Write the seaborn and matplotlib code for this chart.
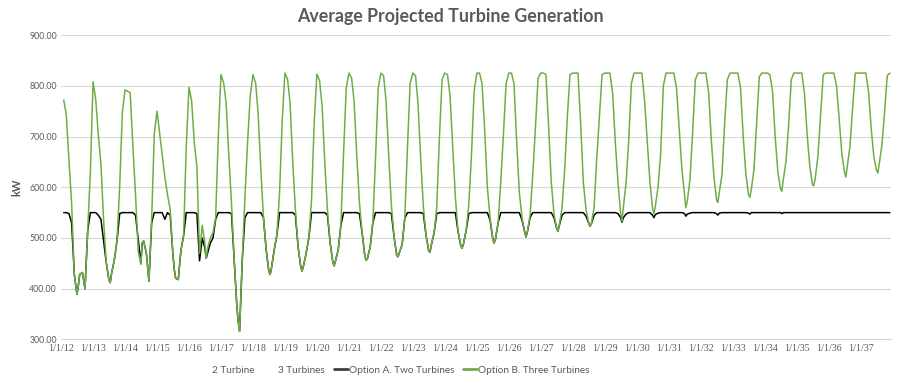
import numpy as np
import pandas as pd
import matplotlib
matplotlib.use("Agg")
import matplotlib.pyplot as plt
from matplotlib.lines import Line2D
import seaborn as sns

# ---------------------------------------------------------------------------
# DATA (kW)
# ---------------------------------------------------------------------------
years = list(range(2012, 2038))
sample_days = ["01-01", "02-01", "03-01", "04-01", "05-01", "06-01",
               "07-01", "07-16", "08-01", "09-01", "10-01", "11-01", "12-01"]

# Option B. Three Turbines - one row per year
green_kw = [
    [np.nan, 772, 743, 652, 569, 428, 389, 405, 428, 432, 400, 517, 630],  # 2012
    [808, 772, 705, 645, 536, 451, 418, 412, 431, 457, 494, 602, 746],     # 2013
    [792, 789, 786, 680, 585, 474, 448, 490, 494, 471, 415, 536, 705],     # 2014
    [750, 705, 665, 620, 585, 556, 470, 440, 421, 418, 475, 505, 680],     # 2015
    [797, 770, 690, 640, 470, 525, 490, 460, 480, 500, 510, 540, 700],     # 2016
    [822, 805, 766, 661, 569, 457, 366, 336, 316, 457, 579, 690, 780],     # 2017
    [822, 805, 746, 635, 540, 477, 435, 428, 441, 477, 505, 590, 730],     # 2018
    [825, 812, 766, 648, 555, 482, 443, 435, 445, 470, 500, 575, 725],     # 2019
    [823, 810, 760, 647, 555, 490, 453, 445, 455, 477, 525, 667, 795],     # 2020
    [825, 815, 770, 662, 570, 510, 466, 456, 460, 482, 530, 658, 795],     # 2021
    [825, 820, 770, 660, 565, 502, 466, 463, 472, 487, 539, 680, 805],     # 2022
    [825, 820, 765, 655, 562, 505, 475, 472, 487, 510, 560, 700, 812],     # 2023
    [825, 822, 780, 678, 580, 512, 485, 480, 488, 515, 565, 665, 790],     # 2024
    [825, 825, 805, 712, 600, 540, 500, 490, 497, 530, 610, 705, 804],     # 2025
    [825, 825, 805, 690, 590, 540, 512, 502, 512, 545, 622, 717, 815],     # 2026
    [825, 825, 822, 720, 610, 548, 520, 513, 525, 560, 635, 740, 822],     # 2027
    [825, 825, 825, 725, 610, 556, 530, 523, 528, 560, 655, 740, 822],     # 2028
    [825, 825, 825, 785, 690, 610, 550, 533, 560, 608, 690, 805, 825],     # 2029
    [825, 825, 825, 770, 690, 610, 558, 548, 562, 600, 665, 800, 825],     # 2030
    [825, 825, 825, 795, 715, 635, 585, 560, 572, 615, 707, 812, 825],     # 2031
    [825, 825, 825, 788, 695, 620, 575, 570, 590, 625, 727, 812, 825],     # 2032
    [825, 825, 825, 795, 700, 625, 585, 580, 595, 635, 725, 818, 825],     # 2033
    [825, 825, 822, 790, 700, 630, 597, 592, 614, 650, 720, 812, 825],     # 2034
    [825, 825, 825, 785, 705, 640, 605, 603, 617, 660, 740, 822, 825],     # 2035
    [825, 825, 825, 800, 735, 665, 630, 620, 640, 680, 755, 825, 825],     # 2036
    [825, 825, 825, 790, 718, 660, 634, 628, 645, 683, 746, 820, 825],     # 2037
]

# Option A. Two Turbines - one row per year
black_kw = [
    [np.nan, 550, 550, 548, 530, 428, 389, 405, 428, 432, 400, 515, 550],  # 2012
    [550, 550, 545, 537, 495, 451, 418, 412, 431, 457, 494, 548, 550],     # 2013
    [550, 550, 550, 550, 545, 497, 450, 490, 494, 471, 415, 530, 550],     # 2014
    [550, 550, 550, 537, 550, 545, 470, 440, 421, 418, 475, 505, 550],     # 2015
    [550, 550, 550, 548, 455, 500, 480, 460, 470, 490, 500, 537, 550],     # 2016
    [550, 550, 550, 550, 548, 457, 366, 336, 316, 457, 540, 550, 550],     # 2017
    [550, 550, 550, 550, 540, 477, 435, 428, 441, 477, 505, 550, 550],     # 2018
    [550, 550, 550, 550, 545, 482, 443, 435, 445, 470, 500, 550, 550],     # 2019
    [550, 550, 550, 550, 545, 490, 453, 445, 455, 477, 525, 550, 550],     # 2020
    [550, 550, 550, 550, 548, 510, 466, 456, 460, 482, 530, 550, 550],     # 2021
    [550, 550, 550, 550, 548, 502, 466, 463, 472, 487, 539, 550, 550],     # 2022
    [550, 550, 550, 550, 548, 505, 475, 472, 487, 510, 548, 550, 550],     # 2023
    [550, 550, 550, 550, 550, 512, 485, 480, 488, 515, 548, 550, 550],     # 2024
    [550, 550, 550, 550, 550, 535, 500, 490, 497, 530, 550, 550, 550],     # 2025
    [550, 550, 550, 550, 550, 535, 512, 502, 512, 540, 550, 550, 550],     # 2026
    [550, 550, 550, 550, 550, 540, 520, 513, 525, 545, 550, 550, 550],     # 2027
    [550, 550, 550, 550, 550, 543, 530, 523, 528, 545, 550, 550, 550],     # 2028
    [550, 550, 550, 550, 550, 548, 540, 531, 540, 547, 550, 550, 550],     # 2029
    [550, 550, 550, 550, 550, 550, 545, 540, 546, 549, 550, 550, 550],     # 2030
    [550, 550, 550, 550, 550, 550, 548, 543, 547, 549, 550, 550, 550],     # 2031
    [550, 550, 550, 550, 550, 550, 548, 545, 549, 550, 550, 550, 550],     # 2032
    [550, 550, 550, 550, 550, 550, 549, 547, 550, 550, 550, 550, 550],     # 2033
    [550, 550, 550, 550, 550, 550, 550, 548, 550, 550, 550, 550, 550],     # 2034
    [550, 550, 550, 550, 550, 550, 550, 550, 550, 550, 550, 550, 550],     # 2035
    [550, 550, 550, 550, 550, 550, 550, 550, 550, 550, 550, 550, 550],     # 2036
    [550, 550, 550, 550, 550, 550, 550, 550, 550, 550, 550, 550, 550],     # 2037
]

x_tick_labels = ["1/1/12", "1/1/13", "1/1/14", "1/1/15", "1/1/16", "1/1/17",
                 "1/1/18", "1/1/19", "1/1/20", "1/1/21", "1/1/22", "1/1/23",
                 "1/1/24", "1/1/25", "1/1/26", "1/1/27", "1/1/28", "1/1/29",
                 "1/1/30", "1/1/31", "1/1/32", "1/1/33", "1/1/34", "1/1/35",
                 "1/1/36", "1/1/37"]
y_ticks = [300, 400, 500, 600, 700, 800, 900]
legend_labels = ["2 Turbine", "3 Turbines",
                 "Option A. Two Turbines", "Option B. Three Turbines"]

# ---------------------------------------------------------------------------
# BUILD LONG TABLE
# ---------------------------------------------------------------------------
rows = []
for i, yr in enumerate(years):
    for j, md in enumerate(sample_days):
        d = pd.Timestamp(f"{yr}-{md}")
        rows.append((d, black_kw[i][j], legend_labels[2]))
        rows.append((d, green_kw[i][j], legend_labels[3]))
df = pd.DataFrame(rows, columns=["date", "kW", "series"]).dropna()

# ---------------------------------------------------------------------------
# PLOT
# ---------------------------------------------------------------------------
sns.set_theme(style="white")
plt.rcParams["font.family"] = ["Lato", "DejaVu Sans"]

GREY = "#595959"
GREEN = "#70AD47"

fig = plt.figure(figsize=(9.0, 3.83), dpi=100)
ax = fig.add_axes([0.0678, 0.1136, 0.9222, 0.795])

sns.lineplot(data=df, x="date", y="kW", hue="series",
             hue_order=[legend_labels[2], legend_labels[3]],
             palette=["#000000", GREEN], estimator=None, legend=False,
             linewidth=1.1, ax=ax)

ax.set_ylim(300, 900)
ax.set_yticks(y_ticks)
ax.set_yticklabels([f"{v:.2f}" for v in y_ticks], fontsize=6.3, color=GREY)
ax.yaxis.grid(True, color="#d9d9d9", linewidth=0.8)
ax.xaxis.grid(False)
ax.set_axisbelow(True)

tick_dates = [pd.Timestamp(f"20{lbl.split('/')[2]}-01-01") for lbl in x_tick_labels]
ax.set_xticks(tick_dates)
ax.set_xticklabels(x_tick_labels, fontsize=7.2, color=GREY,
                   family=["Liberation Serif", "DejaVu Serif"])
ax.set_xlim(pd.Timestamp("2012-01-01"), pd.Timestamp("2037-12-14"))
ax.tick_params(axis="both", length=0, pad=3)

for s in ["top", "right", "left"]:
    ax.spines[s].set_visible(False)
ax.spines["bottom"].set_color("#d9d9d9")
ax.spines["bottom"].set_linewidth(0.8)

ax.set_xlabel("")
ax.set_ylabel("kW", fontsize=8, fontweight="bold", color=GREY, labelpad=5)

fig.text(0.5, 0.957, "Average Projected Turbine Generation", ha="center",
         va="center", fontsize=12.8, fontweight="bold", color=GREY)

handles = [Line2D([], [], color="none"), Line2D([], [], color="none"),
           Line2D([], [], color="#404040", linewidth=2),
           Line2D([], [], color=GREEN, linewidth=2)]
fig.legend(handles, legend_labels, loc="center", bbox_to_anchor=(0.437, 0.033),
           ncol=4, frameon=False, fontsize=7.2, labelcolor=GREY,
           handlelength=1.4, handletextpad=0.1, columnspacing=0.9)

fig.savefig("out.png", dpi=100)
